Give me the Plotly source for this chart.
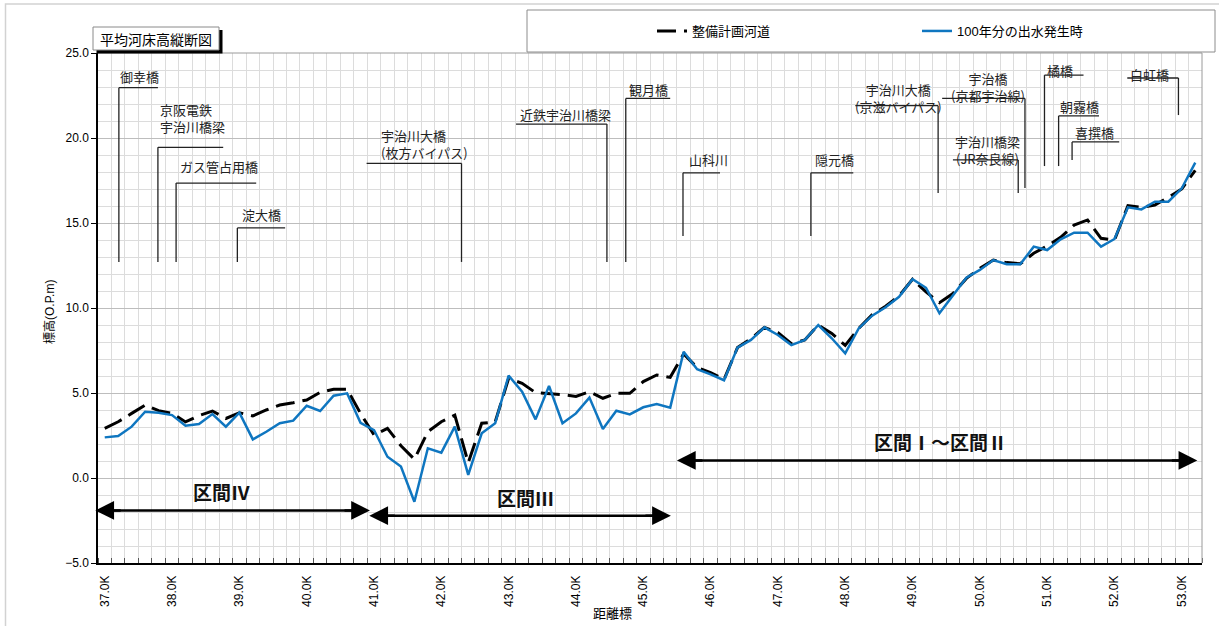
import plotly.graph_objects as go

# ---- data -------------------------------------------------------------
km = [37.0, 37.2, 37.4, 37.6, 37.8, 38.0, 38.2, 38.4, 38.6, 38.8,
      39.0, 39.2, 39.4, 39.6, 39.8, 40.0, 40.2, 40.4, 40.6, 40.8,
      41.0, 41.2, 41.4, 41.6, 41.8, 42.0, 42.2, 42.4, 42.6, 42.8,
      43.0, 43.2, 43.4, 43.6, 43.8, 44.0, 44.2, 44.4, 44.6, 44.8,
      45.0, 45.2, 45.4, 45.6, 45.8, 46.0, 46.2, 46.4, 46.6, 46.8,
      47.0, 47.2, 47.4, 47.6, 47.8, 48.0, 48.2, 48.4, 48.6, 48.8,
      49.0, 49.2, 49.4, 49.6, 49.8, 50.0, 50.2, 50.4, 50.6, 50.8,
      51.0, 51.2, 51.4, 51.6, 51.8, 52.0, 52.2, 52.4, 52.6, 52.8,
      53.0, 53.2]

# 整備計画河道 (planned channel bed)
plan_bed = [2.92, 3.31, 3.80, 4.29, 3.96, 3.80, 3.30, 3.67, 3.94, 3.50,
            3.84, 3.65, 4.00, 4.29, 4.43, 4.59, 5.04, 5.22, 5.22, 3.80,
            2.53, 2.92, 1.90, 1.10, 2.72, 3.31, 3.70, 0.90, 3.22, 3.30,
            5.86, 5.57, 5.02, 4.98, 4.90, 4.80, 5.08, 4.69, 4.98, 4.98,
            5.67, 6.06, 5.92, 7.30, 6.50, 6.20, 5.80, 7.67, 8.20, 8.86,
            8.55, 7.90, 8.12, 9.00, 8.50, 7.80, 8.80, 9.60, 10.10, 10.70,
            11.69, 10.95, 10.31, 10.85, 11.74, 12.33, 12.82, 12.67, 12.60, 13.22,
            13.65, 14.16, 14.88, 15.18, 14.10, 14.00, 16.02, 15.92, 16.06, 16.51,
            17.00, 18.10]

# 100年分の出水発生時 (bed after 100 years of floods)
flood_bed = [2.39, 2.47, 3.02, 3.90, 3.84, 3.70, 3.08, 3.18, 3.76, 3.02,
             3.84, 2.27, 2.72, 3.22, 3.37, 4.25, 3.94, 4.84, 4.98, 3.25,
             2.82, 1.25, 0.67, -1.40, 1.75, 1.49, 3.02, 0.18, 2.63, 3.22,
             6.02, 5.08, 3.45, 5.41, 3.22, 3.80, 4.73, 2.88, 3.96, 3.74,
             4.16, 4.35, 4.14, 7.43, 6.40, 6.10, 5.75, 7.67, 8.12, 8.86,
             8.41, 7.82, 8.12, 9.00, 8.22, 7.33, 8.80, 9.55, 10.04, 10.66,
             11.69, 11.19, 9.69, 10.73, 11.78, 12.24, 12.82, 12.57, 12.57, 13.61,
             13.41, 14.04, 14.43, 14.43, 13.61, 14.06, 15.92, 15.80, 16.25, 16.25,
             17.04, 18.55]

tick_km = [37, 38, 39, 40, 41, 42, 43, 44, 45, 46, 47, 48, 49, 50, 51, 52, 53]
tick_text = ["37.0K", "38.0K", "39.0K", "40.0K", "41.0K", "42.0K", "43.0K",
             "44.0K", "45.0K", "46.0K", "47.0K", "48.0K", "49.0K", "50.0K",
             "51.0K", "52.0K", "53.0K"]

# bridges: location (km), foot and head of the leader line (O.P.m), arm end (km)
bridge_names = ["御幸橋", "京阪電鉄宇治川橋梁", "ガス管占用橋", "淀大橋",
                "宇治川大橋(枚方バイパス)", "近鉄宇治川橋梁", "観月橋", "山科川",
                "隠元橋", "宇治川大橋(京滋バイパス)", "宇治橋(京都宇治線)",
                "宇治川橋梁(JR奈良線)", "橘橋", "朝霧橋", "喜撰橋", "白虹橋"]
bridge_km = [37.21, 37.79, 38.06, 38.97, 42.30, 44.46, 44.74, 45.59,
             47.49, 49.38, 50.67, 50.57, 50.96, 51.17, 51.37, 52.95]
bridge_foot = [12.71, 12.71, 12.71, 12.71, 12.71, 12.71, 12.71, 14.24,
               14.24, 16.77, 17.06, 16.77, 18.35, 18.35, 18.71, 21.35]
bridge_head = [22.96, 19.45, 17.35, 14.71, 18.51, 20.82, 22.33, 17.95,
               17.95, 21.90, 22.33, 18.71, 23.70, 21.30, 19.77, 23.53]
bridge_arm = [37.79, 38.76, 39.25, 39.68, 40.89, 43.11, 45.40, 46.14,
              48.12, 48.15, 49.44, 49.60, 51.54, 51.77, 52.07, 52.19]

# bridge labels: (text, x km, y, anchor)
label_lines = [
    ("御幸橋", 37.51, 23.60, "center"),
    ("京阪電鉄<br>宇治川橋梁", 37.79, 21.20, "left"),
    ("ガス管占用橋", 38.09, 18.30, "left"),
    ("淀大橋", 39.01, 15.48, "left"),
    ("宇治川大橋<br>(枚方バイパス)", 41.07, 19.63, "left"),
    ("近鉄宇治川橋梁", 43.14, 21.41, "left"),
    ("観月橋", 44.76, 22.87, "left"),
    ("山科川", 45.65, 18.71, "left"),
    ("隠元橋", 47.52, 18.71, "left"),
    ("宇治川大橋<br>(京滋バイパス)", 48.79, 22.38, "center"),
    ("宇治橋<br>(京都宇治線)", 50.12, 23.01, "center"),
    ("宇治川橋梁<br>(JR奈良線)", 50.12, 19.30, "center"),
    ("橘橋", 51.19, 24.00, "center"),
    ("朝霧橋", 51.48, 21.88, "center"),
    ("喜撰橋", 51.70, 20.35, "center"),
    ("白虹橋", 52.52, 23.71, "center"),
]

# river sections: from km, to km, arrow level, label, label position
section_names = ["<b>区間Ⅳ</b>", "<b>区間Ⅲ</b>", "<b>区間Ⅰ～区間Ⅱ</b>"]
section_from = [36.86, 40.93, 45.50]
section_to = [40.94, 45.41, 53.23]
section_level = [-1.91, -2.22, 1.03]
section_label_xy = [(38.73, -0.79), (43.25, -1.16), (49.41, 2.13)]

# ---- layout geometry ----------------------------------------------------
W, H = 1219, 626
ML, MR, MT, MB = 98, 17, 53, 63
PW, PH = W - ML - MR, H - MT - MB

def px_x(px):
    return (px - ML) / PW

def px_y(py):
    return (H - MB - py) / PH

JP = "Noto Sans CJK JP"
LAT = "Liberation Sans, Noto Sans CJK JP"

fig = go.Figure()

fig.add_trace(go.Scatter(
    x=km, y=plan_bed, mode="lines", name="整備計画河道",
    line=dict(color="black", width=3, dash="19px,8px"),
))
fig.add_trace(go.Scatter(
    x=km, y=flood_bed, mode="lines", name="100年分の出水発生時",
    line=dict(color="#0f76c0", width=2.5),
))

shapes = []
# bridge leader lines
for bx, f, h, a in zip(bridge_km, bridge_foot, bridge_head, bridge_arm):
    shapes.append(dict(type="line", xref="x", yref="y", x0=bx, x1=bx, y0=f, y1=h,
                       line=dict(color="#222222", width=1.3)))
    shapes.append(dict(type="line", xref="x", yref="y", x0=bx, x1=a, y0=h, y1=h,
                       line=dict(color="#222222", width=1.3)))

# section arrow shafts
for x0, x1, lv in zip(section_from, section_to, section_level):
    shapes.append(dict(type="line", xref="x", yref="y", x0=x0 + 0.12, x1=x1 - 0.12,
                       y0=lv, y1=lv, line=dict(color="black", width=2.5)))

# plot frame (top / right in gray)
shapes.append(dict(type="line", xref="paper", yref="paper", x0=0, x1=1, y0=1, y1=1,
                   line=dict(color="#9a9a9a", width=1)))
shapes.append(dict(type="line", xref="paper", yref="paper", x0=1, x1=1, y0=0, y1=1,
                   line=dict(color="#9a9a9a", width=1)))
# chart border
shapes.append(dict(type="rect", xref="paper", yref="paper",
                   x0=px_x(5.5), x1=px_x(1240), y0=px_y(700), y1=px_y(4),
                   line=dict(color="#d2d2d2", width=1.5)))
# title box with shadow
shapes.append(dict(type="rect", xref="paper", yref="paper",
                   x0=px_x(96.5), x1=px_x(222.5), y0=px_y(53.5), y1=px_y(30),
                   fillcolor="black", line=dict(width=0)))
shapes.append(dict(type="rect", xref="paper", yref="paper",
                   x0=px_x(93), x1=px_x(219), y0=px_y(50), y1=px_y(27),
                   fillcolor="white", line=dict(color="#8a8a8a", width=1)))
# legend box
shapes.append(dict(type="rect", xref="paper", yref="paper",
                   x0=px_x(527), x1=px_x(1215), y0=px_y(52), y1=px_y(10),
                   fillcolor="white", line=dict(color="#8c8c8c", width=1)))

annotations = []
for text, x, y, anc in label_lines:
    annotations.append(dict(text=text, x=x, y=y, xref="x", yref="y",
                            xanchor=anc, yanchor="middle", align=anc,
                            showarrow=False,
                            font=dict(family=JP, size=13, color="#222222")))

for name, x0, x1, lv, (tx, ty) in zip(section_names, section_from, section_to,
                                      section_level, section_label_xy):
    for xe, xt in ((x0, x0 + 0.4), (x1, x1 - 0.4)):
        annotations.append(dict(text="", x=xe, y=lv, ax=xt, ay=lv,
                                xref="x", yref="y", axref="x", ayref="y",
                                showarrow=True, arrowhead=2, arrowsize=1.5,
                                arrowwidth=2.5, arrowcolor="black", standoff=0))
    annotations.append(dict(text=name, x=tx, y=ty, xref="x", yref="y",
                            showarrow=False, xanchor="center", yanchor="middle",
                            font=dict(family=JP, size=19, color="#111111")))

annotations.append(dict(text="平均河床高縦断図", x=px_x(156), y=px_y(39),
                        xref="paper", yref="paper", showarrow=False,
                        xanchor="center", yanchor="middle",
                        font=dict(family=JP, size=14, color="black")))
annotations.append(dict(text="標高(O.P.m)", x=px_x(50), y=px_y(312),
                        xref="paper", yref="paper", showarrow=False,
                        textangle=-90, xanchor="center", yanchor="middle",
                        font=dict(family=LAT, size=12, color="black")))
annotations.append(dict(text="距離標", x=px_x(612), y=px_y(612),
                        xref="paper", yref="paper", showarrow=False,
                        xanchor="center", yanchor="middle",
                        font=dict(family=JP, size=13, color="black")))

fig.update_layout(
    width=W, height=H,
    margin=dict(l=ML, r=MR, t=MT, b=MB, pad=0),
    paper_bgcolor="white", plot_bgcolor="white",
    font=dict(family=LAT, size=12, color="black"),
    shapes=shapes, annotations=annotations,
    showlegend=True,
    legend=dict(orientation="h", x=px_x(652), y=px_y(31),
                xanchor="left", yanchor="middle",
                bgcolor="rgba(0,0,0,0)", borderwidth=0,
                entrywidth=220, entrywidthmode="pixels",
                font=dict(family=LAT, size=13, color="black")),
    xaxis=dict(
        range=[36.9, 53.3], showgrid=False, zeroline=False,
        tickvals=tick_km, ticktext=tick_text, tickangle=-90,
        ticks="", ticklabelstandoff=6,
        showline=True, linecolor="black", linewidth=1.5,
        tickfont=dict(family=LAT, size=12),
        minor=dict(tick0=36.9, dtick=0.2, ticks="inside", ticklen=5,
                   tickcolor="#555555", showgrid=True,
                   gridcolor="#dcdcdc", gridwidth=1),
    ),
    yaxis=dict(
        range=[-5, 25], dtick=5, tick0=0, tickformat=".1f",
        showgrid=True, gridcolor="#bdbdbd", gridwidth=1, zeroline=False,
        ticks="outside", ticklen=5, tickcolor="black",
        showline=True, linecolor="black", linewidth=1.5,
        tickfont=dict(family=LAT, size=12),
        minor=dict(dtick=1, showgrid=True, gridcolor="#dcdcdc", gridwidth=1),
    ),
)

fig.write_html("out.html")
